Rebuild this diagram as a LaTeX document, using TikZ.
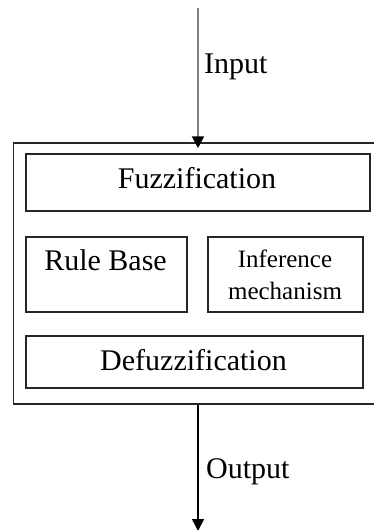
\documentclass[tikz,border=0pt]{standalone}
\usepackage{fontspec}
\setmainfont{Liberation Serif}
\usetikzlibrary{arrows.meta}
\begin{document}
\begin{tikzpicture}[x=1pt,y=-1pt,
  blockbox/.style={draw=black!85,line width=1.5pt,rectangle,inner sep=0pt},
  bigtext/.style={inner sep=0pt,anchor=base,font=\fontsize{30}{32}\selectfont},
  smalltext/.style={inner sep=0pt,anchor=base,align=center,font=\fontsize{25}{32}\selectfont},
  flow/.style={line width=1.6pt,-{Triangle[length=12pt,width=12pt,color=black,fill=black]}}]
\useasboundingbox (0,0) rectangle (374,530);
\clip (0,0) rectangle (374,530);
% outer system frame (runs off the right edge)
\node[blockbox,minimum width=364pt,minimum height=261pt] (sys) at (195.5,273.5) {};
% inner blocks
\node[blockbox,minimum width=344pt,minimum height=57pt] (fuz) at (198,182.5) {};
\node[blockbox,minimum width=161pt,minimum height=75pt] (rule) at (106.5,274.5) {};
\node[blockbox,minimum width=155pt,minimum height=75pt] (inf) at (285.5,274.5) {};
\node[blockbox,minimum width=337pt,minimum height=52pt] (defuz) at (194.5,362) {};
% block labels
\node[bigtext] (tfuz) at (197,188) {Fuzzification};
\node[bigtext] (trule) at (105.5,270) {Rule Base};
\node[smalltext] (tinf) at (285,299) {Inference\\mechanism};
\node[bigtext] (tdefuz) at (193.5,370) {Defuzzification};
% input and output connectors
\coordinate (src) at (198,8);
\coordinate (dst) at (198,530);
\draw[flow,draw=black!50,line width=2pt] (src) -- ([yshift=-6pt]sys.north -| src);
\draw[flow,draw=black] (sys.south -| dst) -- ([yshift=-1pt]dst);
\node[bigtext,anchor=base west] (tin) at (204,73) {Input};
\node[bigtext,anchor=base west] (tout) at (206,478) {Output};
\end{tikzpicture}
\end{document}
